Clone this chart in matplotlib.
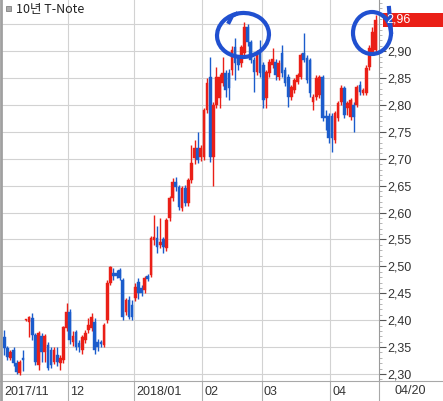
import matplotlib
matplotlib.use("Agg")
import matplotlib.pyplot as plt
from matplotlib.patches import Ellipse, Rectangle
from matplotlib.ticker import MultipleLocator, FixedLocator, FuncFormatter
from matplotlib.transforms import blended_transform_factory
import numpy as np

# ---------------- data (10y T-Note yield, daily OHLC) ----------------
opens = [
    # Nov
    2.369, 2.348, 2.330, 2.345, 2.320, 2.302, 2.330, 2.400, 2.397, 2.404, 2.372,
    2.317, 2.371, 2.341, 2.354, 2.345, 2.322, 2.335, 2.320, 2.326, 2.385,
    # Dec
    2.415, 2.360, 2.378, 2.358, 2.345, 2.363, 2.382, 2.385, 2.397, 2.360, 2.360,
    2.354, 2.400, 2.469, 2.488, 2.488, 2.493, 2.475, 2.415, 2.438, 2.428,
    # Jan
    2.441, 2.471, 2.460, 2.456, 2.482, 2.484, 2.549, 2.553, 2.540, 2.551, 2.534,
    2.590, 2.627, 2.657, 2.648, 2.609, 2.646, 2.618, 2.661, 2.701, 2.720, 2.703,
    # Feb
    2.703, 2.791, 2.852, 2.703, 2.800, 2.813, 2.841, 2.859, 2.859, 2.865,
    2.908, 2.889, 2.878, 2.897, 2.945, 2.917, 2.884, 2.861, 2.897,
    # Mar
    2.874, 2.813, 2.859, 2.874, 2.880, 2.852, 2.897, 2.865, 2.852, 2.815, 2.828,
    2.843, 2.852, 2.897, 2.888, 2.884, 2.806, 2.815, 2.818, 2.852, 2.780, 2.780,
    # Apr
    2.780, 2.735, 2.776, 2.806, 2.832, 2.794, 2.778, 2.800, 2.800, 2.837,
    2.822, 2.822, 2.871, 2.899, 2.902,
]
highs = [
    2.382, 2.352, 2.345, 2.350, 2.326, 2.326, 2.345, 2.402, 2.408, 2.413, 2.376,
    2.380, 2.376, 2.375, 2.360, 2.350, 2.350, 2.350, 2.335, 2.390, 2.432,
    2.420, 2.380, 2.382, 2.363, 2.372, 2.382, 2.404, 2.413, 2.404, 2.365, 2.363,
    2.395, 2.475, 2.501, 2.497, 2.493, 2.497, 2.478, 2.442, 2.445, 2.438,
    2.470, 2.478, 2.466, 2.482, 2.486, 2.556, 2.596, 2.575, 2.590, 2.555, 2.590,
    2.630, 2.665, 2.666, 2.652, 2.650, 2.652, 2.665, 2.725, 2.735, 2.750, 2.725,
    2.795, 2.850, 2.889, 2.805, 2.871, 2.858, 2.889, 2.865, 2.866, 2.910,
    2.925, 2.893, 2.912, 2.954, 2.950, 2.921, 2.890, 2.902, 2.921,
    2.880, 2.865, 2.885, 2.906, 2.886, 2.884, 2.912, 2.870, 2.858, 2.837, 2.850,
    2.860, 2.897, 2.934, 2.893, 2.888, 2.820, 2.855, 2.856, 2.856, 2.791, 2.785,
    2.785, 2.789, 2.808, 2.837, 2.835, 2.808, 2.813, 2.806, 2.837, 2.845,
    2.832, 2.875, 2.912, 2.945, 2.967,
]
lows = [
    2.335, 2.326, 2.326, 2.315, 2.300, 2.298, 2.305, 2.399, 2.369, 2.363, 2.317,
    2.307, 2.322, 2.322, 2.307, 2.312, 2.318, 2.315, 2.307, 2.320, 2.380,
    2.355, 2.352, 2.345, 2.340, 2.338, 2.358, 2.376, 2.380, 2.338, 2.343, 2.350,
    2.350, 2.395, 2.465, 2.475, 2.478, 2.474, 2.400, 2.410, 2.402, 2.400,
    2.436, 2.440, 2.445, 2.450, 2.472, 2.480, 2.540, 2.525, 2.535, 2.525, 2.528,
    2.585, 2.622, 2.640, 2.605, 2.603, 2.612, 2.613, 2.655, 2.690, 2.692, 2.695,
    2.698, 2.785, 2.694, 2.649, 2.795, 2.794, 2.835, 2.815, 2.809, 2.855,
    2.846, 2.865, 2.870, 2.890, 2.910, 2.878, 2.824, 2.855, 2.852,
    2.794, 2.794, 2.852, 2.868, 2.846, 2.846, 2.852, 2.835, 2.796, 2.810, 2.822,
    2.838, 2.848, 2.880, 2.840, 2.815, 2.791, 2.810, 2.812, 2.770, 2.754, 2.730,
    2.713, 2.729, 2.770, 2.800, 2.776, 2.781, 2.772, 2.750, 2.796, 2.818,
    2.818, 2.818, 2.865, 2.893, 2.897,
]
closes = [
    2.348, 2.332, 2.341, 2.320, 2.304, 2.322, 2.326, 2.402, 2.406, 2.372, 2.322,
    2.376, 2.341, 2.371, 2.311, 2.317, 2.345, 2.322, 2.330, 2.387, 2.415,
    2.363, 2.371, 2.350, 2.350, 2.369, 2.376, 2.391, 2.406, 2.345, 2.350, 2.356,
    2.391, 2.469, 2.499, 2.482, 2.482, 2.478, 2.406, 2.438, 2.406, 2.406,
    2.462, 2.450, 2.450, 2.478, 2.477, 2.553, 2.555, 2.536, 2.545, 2.536, 2.586,
    2.627, 2.657, 2.648, 2.610, 2.646, 2.618, 2.661, 2.692, 2.720, 2.698, 2.720,
    2.791, 2.841, 2.703, 2.800, 2.852, 2.852, 2.859, 2.828, 2.832, 2.902,
    2.878, 2.874, 2.908, 2.945, 2.917, 2.884, 2.861, 2.897, 2.859,
    2.809, 2.861, 2.880, 2.886, 2.856, 2.878, 2.859, 2.841, 2.815, 2.833, 2.846,
    2.856, 2.893, 2.884, 2.846, 2.822, 2.815, 2.850, 2.852, 2.776, 2.776, 2.739,
    2.739, 2.785, 2.804, 2.832, 2.781, 2.804, 2.809, 2.778, 2.833, 2.824,
    2.828, 2.869, 2.906, 2.936, 2.958,
]
month_labels = ["2017/11", "12", "2018/01", "02", "03", "04"]
month_start = [0, 21, 42, 64, 83, 105]
last_date_label = "04/20"
series_name = "10년 T-Note"
y_ticks = [2.30, 2.35, 2.40, 2.45, 2.50, 2.55, 2.60, 2.65, 2.70, 2.75, 2.80, 2.85, 2.90]
grid_levels = y_ticks + [2.95]

# ---------------- figure ----------------
W, H = 443, 401
fig = plt.figure(figsize=(W / 100, H / 100), dpi=100)
fig.patch.set_facecolor("white")

ax_l, ax_r, ax_t, ax_b = 2, 379, 0, 381
ax = fig.add_axes([ax_l / W, (H - ax_b) / H, (ax_r - ax_l) / W, (ax_b - ax_t) / H])
ax.set_facecolor("white")

RED = "#ea1f17"
BLUE = "#1b5ccc"
GRID = "#d2d2d2"

o = np.array(opens); h = np.array(highs); l = np.array(lows); c = np.array(closes)
x = np.arange(len(o))
up = c >= o
cols = np.where(up, RED, BLUE)

ax.vlines(x, l, h, colors=cols, linewidth=1.0, zorder=3)
body_lo = np.minimum(o, c)
body_h = np.maximum(np.abs(c - o), 0.002)
ax.bar(x, body_h, bottom=body_lo, width=0.86, color=cols, edgecolor=cols,
       linewidth=0.3, zorder=4)

ax.set_xlim(-0.7, 120.1)
ax.set_ylim(2.287, 2.995)

# grid
for yt in grid_levels:
    ax.axhline(yt, color=GRID, lw=0.8, zorder=1)
for ms in month_start[1:]:
    ax.axvline(ms - 0.5, color=GRID, lw=0.8, zorder=1)

# spines
for s in ["top", "left", "bottom"]:
    ax.spines[s].set_visible(False)
ax.spines["right"].set_color("#9a9a9a")
ax.spines["right"].set_linewidth(0.8)

# y axis right
ax.yaxis.tick_right()
ax.yaxis.set_major_locator(FixedLocator(y_ticks))
ax.yaxis.set_minor_locator(MultipleLocator(0.01))
ax.yaxis.set_major_formatter(FuncFormatter(lambda v, p: f"{v:.2f}".replace(".", ",")))
ax.tick_params(axis="y", which="major", length=5, width=0.8, color="#555555",
               labelsize=9, labelcolor="#333333", pad=1)
ax.tick_params(axis="y", which="minor", length=2, width=0.6, color="#aaaaaa")
for lab in ax.get_yticklabels():
    lab.set_fontfamily("Liberation Sans")
ax.set_xticks([])

# bottom date strip
trans = blended_transform_factory(ax.transData, ax.transAxes)
strip = 20 / (ax_b - ax_t)
for lbl, ms in zip(month_labels, month_start):
    ax.text(ms - 0.5 + 0.7, -strip / 2 - 0.002, lbl, transform=trans, ha="left",
            va="center", fontsize=9, family="Liberation Sans", color="#333333")
    if ms > 0:
        ax.plot([ms - 0.5, ms - 0.5], [0, -strip], transform=trans, color="#b0b0b0",
                lw=0.8, clip_on=False)

# overlay in pixel coords for decorations
ov = fig.add_axes([0, 0, 1, 1], facecolor="none")
ov.set_xlim(0, W); ov.set_ylim(H, 0); ov.axis("off")
ov.plot([0, W], [ax_b, ax_b], color="#a8a8a8", lw=0.8)
ov.plot([ax_r, ax_r], [ax_b, H], color="#a8a8a8", lw=0.8)
ov.plot([1, 1], [0, H], color="#a0a0a0", lw=2)
ov.text(410, 391, last_date_label, ha="center", va="center", fontsize=9,
        family="Liberation Sans", color="#333333")

# legend
ov.add_patch(Rectangle((6, 6), 5, 5, facecolor="#aaaaaa", edgecolor="#808080", lw=0.6))
ov.text(16, 9, series_name, ha="left", va="center", fontsize=9,
        family=["Noto Sans CJK KR", "DejaVu Sans"], color="#222222")

# last price box
ov.add_patch(Rectangle((383, 13), 60, 14, facecolor=RED, edgecolor="none"))
ov.text(386, 20, f"{closes[-1]:.2f}".replace(".", ","), ha="left", va="center",
        fontsize=9, family="Liberation Sans", color="white")

# hand-drawn circles
PEN = "#2050d0"
ov.add_patch(Ellipse((243, 35), 52, 44, angle=-5, fill=False, edgecolor=PEN, lw=3.0))
ov.plot([229, 232, 236], [22, 16, 14], color=PEN, lw=3.0)
ov.add_patch(Ellipse((372, 33), 38, 42, angle=0, fill=False, edgecolor=PEN, lw=3.0))
ov.plot([389, 390, 391], [8, 20, 32], color=PEN, lw=3.0)

fig.savefig("out.png", dpi=100, facecolor="white")
